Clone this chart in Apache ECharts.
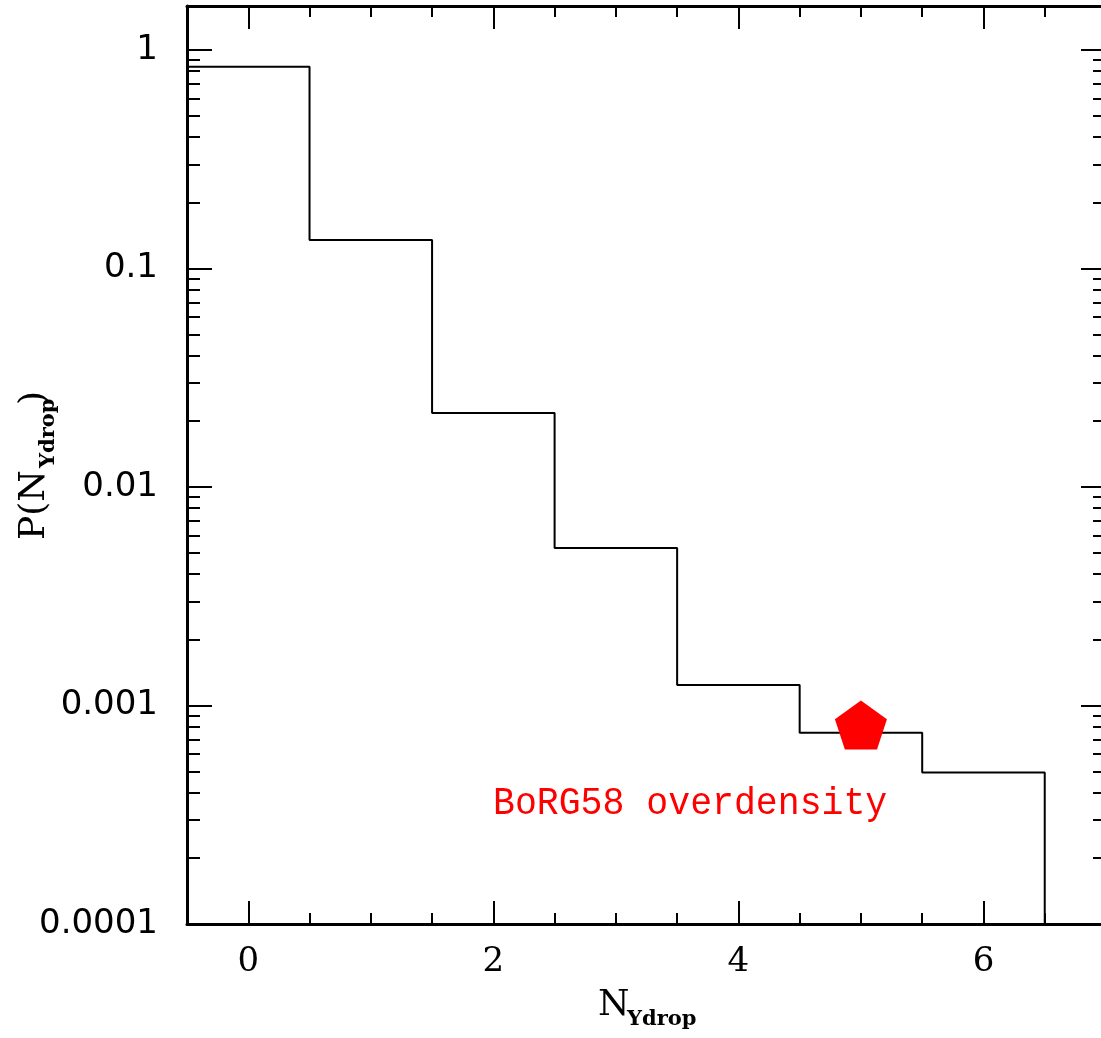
<!DOCTYPE html>
<html lang="en">

<head>
    <meta charset="UTF-8">
    <title>P(N_Ydrop)</title>
    <script src="https://cdn.jsdelivr.net/npm/echarts@6/dist/echarts.min.js"></script>
    <style>
        * {
            padding: 0;
            margin: 0;
        }

        body {
            background: #fff;
        }

        #chart {
            width: 1101px;
            height: 1038px;
        }
    </style>
</head>

<body>
    <div id="chart"></div>
    <script>
        // histogram of N_Ydrop counts (bin centres) and their probability
        var binCenters = [0, 1, 2, 3, 4, 5, 6];
        var probs = [0.839, 0.135, 0.0218, 0.00526, 0.00124, 0.000751, 0.000494];

        // the BoRG58 field
        var borgPoint = [5, 0.000814];
        var borgLabel = 'BoRG58 overdensity';

        // ticks
        var xMajorTicks = [0, 2, 4, 6];
        var xMinorTicks = [0.5, 1, 1.5, 2.5, 3, 3.5, 4.5, 5, 5.5, 6.5];
        var yMajorTicks = [0.0001, 0.001, 0.01, 0.1, 1];
        var yTickLabels = ['0.0001', '0.001', '0.01', '0.1', '1'];
        var yMinorTicks = [];
        yMajorTicks.forEach(function (d) {
            for (var k = 2; k <= 9; k++) {
                var v = +(d * k).toPrecision(3);
                if (v < 1.59) yMinorTicks.push(v);
            }
        });

        var xMin = -0.5, xMax = 7;
        var yMin = 0.0000999999, yMax = 1.59;

        // step outline built from the bins
        var stepData = [];
        binCenters.forEach(function (c, i) {
            stepData.push([c - 0.5, probs[i]]);
        });
        var last = binCenters.length - 1;
        stepData.push([binCenters[last] + 0.5, probs[last]]);
        stepData.push([binCenters[last] + 0.5, yMin]);

        var chart = echarts.init(document.getElementById('chart'));

        function xAxis(pos, major, labels) {
            return {
                type: 'value', position: pos, min: xMin, max: xMax,
                splitLine: { show: false },
                axisLine: { show: major, onZero: false, lineStyle: { color: '#000', width: 3 } },
                axisTick: {
                    show: true, inside: true,
                    length: major ? 23 : 11,
                    lineStyle: { color: '#000', width: 2 },
                    customValues: major ? xMajorTicks : xMinorTicks
                },
                axisLabel: {
                    show: labels, customValues: xMajorTicks, margin: 21,
                    color: '#000', fontFamily: 'DejaVu Serif', fontSize: 34
                }
            };
        }

        function yAxis(pos, major, labels) {
            return {
                type: 'log', position: pos, min: yMin, max: yMax,
                splitLine: { show: false },
                axisLine: { show: major, onZero: false, lineStyle: { color: '#000', width: 3 } },
                axisTick: {
                    show: true, inside: true,
                    length: major ? 25 : 13,
                    lineStyle: { color: '#000', width: 2 },
                    customValues: major ? yMajorTicks : yMinorTicks
                },
                axisLabel: {
                    show: labels, customValues: yMajorTicks, margin: 29,
                    color: '#000', fontFamily: 'DejaVu Sans', fontSize: 34,
                    formatter: function (v) {
                        for (var i = 0; i < yMajorTicks.length; i++) {
                            if (Math.abs(Math.log10(v) - Math.log10(yMajorTicks[i])) < 0.01) return yTickLabels[i];
                        }
                        return '';
                    }
                }
            };
        }

        var option = {
            animation: false,
            backgroundColor: '#fff',
            grid: { left: 187, top: 6, width: 919, height: 918, outerBoundsMode: 'none', containLabel: false },
            xAxis: [
                xAxis('bottom', true, true),
                xAxis('bottom', false, false),
                xAxis('top', true, false),
                xAxis('top', false, false)
            ],
            yAxis: [
                yAxis('left', true, true),
                yAxis('left', false, false),
                yAxis('right', true, false),
                yAxis('right', false, false)
            ],
            series: [
                {
                    type: 'line',
                    step: 'end',
                    data: stepData,
                    symbol: 'none',
                    lineStyle: { color: '#000', width: 2 },
                    z: 3
                },
                {
                    type: 'scatter',
                    data: [borgPoint],
                    symbol: 'path://M0,-1 L0.951,-0.309 L0.588,0.809 L-0.588,0.809 L-0.951,-0.309 Z',
                    symbolSize: [52, 49],
                    itemStyle: { color: '#ff0000', opacity: 1 },
                    z: 4
                }
            ],
            graphic: [
                {
                    type: 'text', x: 493, y: 804, scaleY: 1.05,
                    style: {
                        text: borgLabel, fill: '#ff0000',
                        font: '36.5px "Liberation Mono"',
                        align: 'left', verticalAlign: 'middle'
                    }
                },
                // x axis name
                {
                    type: 'text', x: 598, y: 1006,
                    style: { text: 'N', fill: '#000', font: '36px "DejaVu Serif"', align: 'left', verticalAlign: 'middle' }
                },
                {
                    type: 'text', x: 627, y: 1020,
                    style: { text: 'Ydrop', fill: '#000', font: 'bold 21px "DejaVu Serif"', align: 'left', verticalAlign: 'middle' }
                },
                // y axis name, rotated
                {
                    type: 'group', x: 46, y: 540, rotation: Math.PI / 2,
                    children: [
                        {
                            type: 'text', x: 0, y: -11,
                            style: { text: 'P(N', fill: '#000', font: '36px "DejaVu Serif"', align: 'left', verticalAlign: 'middle' }
                        },
                        {
                            type: 'text', x: 72, y: 3,
                            style: { text: 'Ydrop', fill: '#000', font: 'bold 21px "DejaVu Serif"', align: 'left', verticalAlign: 'middle' }
                        },
                        {
                            type: 'text', x: 135, y: -11,
                            style: { text: ')', fill: '#000', font: '36px "DejaVu Serif"', align: 'left', verticalAlign: 'middle' }
                        }
                    ]
                }
            ]
        };
        chart.setOption(option);
    </script>
</body>

</html>
